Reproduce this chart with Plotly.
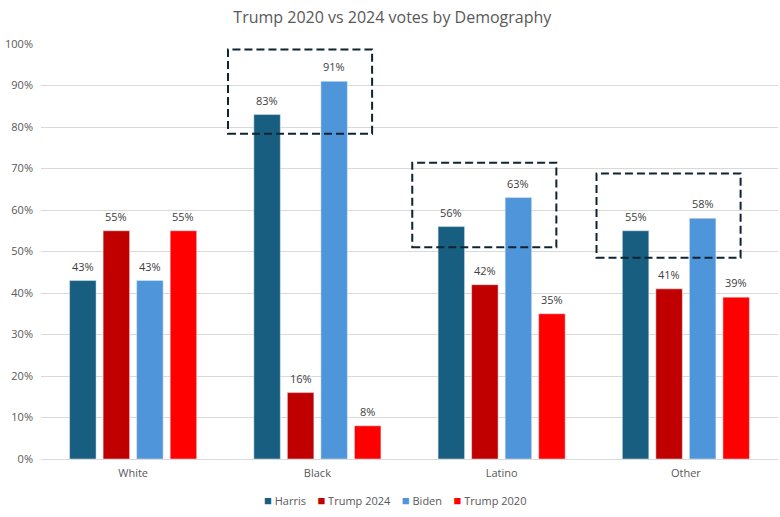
import plotly.graph_objects as go

categories = ["White", "Black", "Latino", "Other"]
series_names = ["Harris", "Trump 2024", "Biden", "Trump 2020"]
harris = [43, 83, 56, 55]
trump_2024 = [55, 16, 42, 41]
biden = [43, 91, 63, 58]
trump_2020 = [55, 8, 35, 39]

values = [harris, trump_2024, biden, trump_2020]
colors = ["#175E80", "#C00000", "#4F95D9", "#FF0000"]

# highlight boxes (around Harris & Biden), styling pads in value units
highlight = ["Black", "Latino", "Other"]
pad_below = [4.6, 5.0, 6.5]
pad_above = [7.7, 8.4, 10.8]

fig = go.Figure()
for name, vals, col in zip(series_names, values, colors):
    fig.add_trace(go.Bar(
        name=name, x=categories, y=vals, marker_color=col,
        hoverinfo="skip", showlegend=False,
    ))

bargap = 0.272
slot = (1 - bargap) / 4
annotations = []
for si, vals in enumerate(values):
    off = (si - 1.5) * slot
    for ci, v in enumerate(vals):
        annotations.append(dict(
            x=ci + off, y=v, xref="x", yref="y", text=f"{v}%",
            showarrow=False, yanchor="bottom", yshift=5,
            font=dict(size=11, color="#404040"),
        ))

# custom compact legend
legend_text = "&nbsp;&nbsp;&nbsp;&nbsp;".join(
    f"<span style='color:{c};font-size:13px'>■</span>&nbsp;{n}" for n, c in zip(series_names, colors)
)
annotations.append(dict(
    x=0.48, y=-0.099, xref="paper", yref="paper", text=legend_text,
    showarrow=False, xanchor="center", yanchor="middle",
    font=dict(size=11, color="#595959"),
))

shapes = []
for k, cat in enumerate(highlight):
    ci = categories.index(cat)
    lo = min(harris[ci], biden[ci]) - pad_below[k]
    hi = max(harris[ci], biden[ci]) + pad_above[k]
    shapes.append(dict(
        type="rect", xref="x", yref="y",
        x0=ci - 0.485, x1=ci + 0.297, y0=lo, y1=hi,
        line=dict(color="#0E2431", width=2, dash="8px,4px"),
        fillcolor="rgba(0,0,0,0)", layer="above",
    ))

fig.update_layout(
    width=780, height=517,
    barmode="group", bargap=bargap, bargroupgap=0.21,
    paper_bgcolor="white", plot_bgcolor="white",
    margin=dict(l=41, r=2, t=44, b=58, autoexpand=False),
    font=dict(family="Open Sans, Arial, sans-serif", color="#595959", size=11),
    title=dict(text="Trump 2020 vs 2024 votes by Demography", x=0.503, xanchor="center",
               y=0.967, yanchor="middle", font=dict(size=16, color="#595959")),
    showlegend=False,
    annotations=annotations,
    shapes=shapes,
)
fig.update_xaxes(showline=True, linecolor="#D9D9D9", linewidth=1, ticks="",
                 automargin=False, ticklabelstandoff=4,
                 tickfont=dict(size=11, color="#595959"))
fig.update_yaxes(range=[0, 100], dtick=10, ticksuffix="%", showgrid=True,
                 gridcolor="#D9D9D9", zeroline=False, automargin=False,
                 ticklabelstandoff=7,
                 tickfont=dict(size=11, color="#595959"))

fig.write_html("out.html", config={"displayModeBar": False},
               post_script="document.body.style.margin='0';document.body.style.padding='0';")
